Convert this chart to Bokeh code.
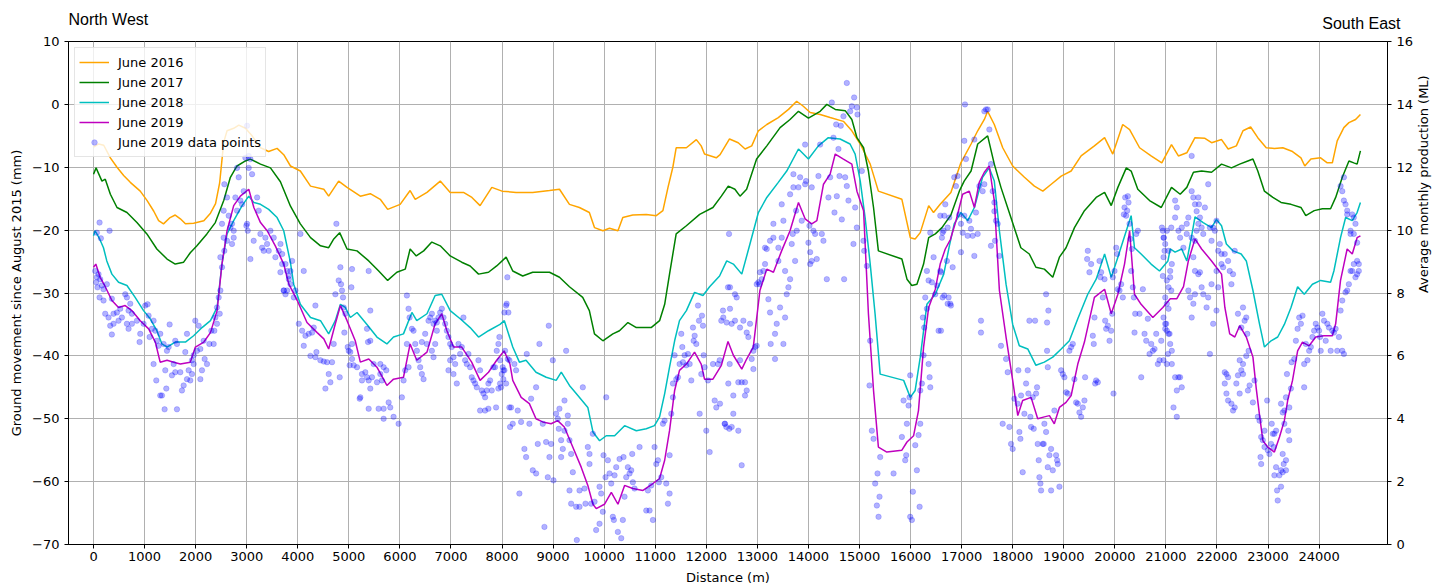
import math
from bokeh.plotting import figure
from bokeh.models import (Range1d, LinearAxis, FixedTicker, Legend, LegendItem,
                          Title, ColumnDataSource)
from bokeh.embed import file_html
from bokeh.resources import INLINE

# ---------------------------------------------------------------------------
# Survey profiles: distance along the line (m) -> ground movement (mm)
# ---------------------------------------------------------------------------
june_2016 = [(0,-6.8),(100,-6.3),(200,-6.5),(330,-8.5),(460,-10.0),(590,-11.3),(720,-12.4),(915,-13.8),(1050,-15.3),(1180,-17.0),(1275,-18.5),(1370,-19.0),(1500,-18.0),(1600,-17.6),(1700,-18.2),(1800,-19.0),(1960,-18.9),(2160,-18.5),(2290,-17.3),(2390,-15.8),(2470,-12.5),(2550,-6.0),(2615,-4.2),(2745,-3.8),(2845,-3.3),(2975,-3.8),(3105,-5.0),(3270,-6.9),(3430,-7.5),(3595,-7.0),(3725,-8.0),(3857,-9.8),(4050,-10.6),(4250,-13.0),(4510,-13.5),(4605,-14.6),(4800,-12.2),(4965,-13.2),(5225,-14.6),(5420,-14.2),(5615,-15.1),(5760,-16.7),(6005,-15.9),(6200,-13.7),(6300,-15.1),(6530,-14.0),(6790,-12.2),(6985,-14.0),(7245,-14.0),(7410,-14.8),(7570,-16.1),(7800,-13.2),(8000,-13.8),(8275,-14.0),(8600,-14.0),(8930,-13.7),(9125,-13.5),(9320,-15.9),(9515,-16.4),(9710,-17.2),(9810,-19.6),(9975,-20.1),(10105,-19.7),(10270,-20.1),(10365,-18.0),(10560,-17.6),(10825,-17.5),(11020,-17.7),(11150,-16.9),(11250,-13.2),(11345,-10.0),(11410,-6.9),(11610,-6.9),(11805,-5.6),(11900,-6.6),(11965,-7.9),(12195,-8.5),(12270,-8.0),(12455,-5.5),(12625,-6.1),(12760,-7.1),(12890,-6.6),(13020,-4.2),(13185,-3.2),(13410,-2.1),(13610,-0.8),(13770,0.5),(13900,-0.3),(14035,-1.3),(14230,-1.6),(14425,-2.1),(14685,-2.7),(14850,-4.2),(15015,-6.3),(15210,-9.5),(15370,-13.8),(15830,-15.1),(15995,-21.2),(16090,-21.4),(16190,-20.4),(16355,-16.1),(16450,-17.2),(16580,-15.9),(16790,-14.0),(16985,-9.3),(17185,-6.3),(17315,-4.2),(17445,-2.4),(17510,-1.1),(17640,-3.2),(17805,-6.9),(18000,-9.8),(18230,-11.6),(18425,-13.0),(18590,-13.8),(18755,-12.7),(18950,-11.4),(19145,-10.6),(19340,-8.2),(19600,-6.6),(19800,-5.3),(19960,-7.9),(20155,-3.2),(20290,-4.0),(20485,-6.9),(20710,-8.2),(20920,-9.3),(21110,-6.4),(21245,-8.2),(21410,-7.7),(21570,-5.3),(21765,-5.4),(21895,-6.1),(22090,-5.6),(22220,-7.1),(22380,-6.6),(22510,-4.2),(22660,-3.6),(22800,-5.3),(22965,-6.9),(23125,-7.0),(23290,-6.9),(23480,-7.5),(23645,-8.5),(23720,-9.8),(23840,-8.7),(24030,-8.5),(24160,-9.3),(24260,-9.3),(24355,-5.8),(24485,-3.7),(24585,-2.9),(24715,-2.4),(24810,-1.6)]

june_2017 = [(0,-11.1),(50,-10.1),(165,-12.2),(230,-11.9),(330,-14.3),(460,-16.4),(655,-17.2),(850,-18.8),(1045,-20.6),(1240,-23.0),(1440,-24.6),(1600,-25.4),(1765,-25.1),(1895,-23.6),(2025,-22.5),(2220,-20.6),(2385,-18.8),(2550,-15.3),(2680,-11.6),(2810,-9.8),(2975,-9.0),(3070,-8.7),(3270,-9.5),(3465,-10.1),(3660,-12.3),(3857,-16.2),(4050,-19.0),(4250,-21.2),(4445,-22.5),(4605,-22.8),(4705,-21.4),(4820,-20.4),(4965,-23.0),(5160,-23.3),(5390,-24.9),(5585,-26.5),(5760,-28.0),(5940,-26.7),(6105,-26.2),(6200,-23.0),(6320,-24.1),(6465,-23.3),(6625,-21.9),(6790,-22.5),(6985,-24.1),(7210,-25.1),(7375,-25.7),(7540,-27.0),(7735,-26.7),(7895,-25.7),(8080,-24.3),(8210,-26.5),(8405,-27.3),(8600,-26.7),(8930,-26.7),(9125,-27.5),(9320,-29.0),(9580,-30.7),(9710,-32.8),(9810,-36.5),(9975,-37.6),(10170,-36.5),(10300,-36.0),(10465,-34.7),(10630,-35.5),(10920,-35.5),(11085,-34.4),(11185,-31.8),(11280,-27.0),(11410,-20.6),(11610,-19.3),(11870,-17.5),(12130,-16.4),(12295,-14.6),(12430,-13.0),(12560,-13.5),(12660,-14.6),(12790,-13.5),(12985,-8.7),(13185,-6.6),(13445,-3.7),(13640,-2.4),(13805,-1.1),(14000,-2.2),(14230,-1.1),(14360,0.0),(14525,-0.8),(14720,-1.0),(14850,-2.4),(14950,-5.3),(15080,-6.9),(15175,-10.6),(15275,-16.4),(15370,-23.3),(15830,-24.6),(15930,-27.8),(16025,-28.8),(16125,-28.6),(16255,-25.4),(16355,-21.2),(16485,-20.6),(16615,-19.6),(16790,-17.6),(16955,-13.8),(17050,-12.2),(17185,-10.6),(17315,-6.3),(17510,-5.0),(17640,-9.5),(17770,-13.2),(17965,-18.0),(18160,-22.8),(18325,-23.8),(18455,-25.9),(18620,-26.2),(18785,-27.5),(18915,-24.3),(19045,-22.8),(19210,-19.6),(19405,-16.9),(19635,-14.8),(19800,-14.0),(19930,-16.1),(20060,-13.2),(20225,-10.1),(20320,-10.6),(20450,-13.5),(20680,-15.3),(20910,-16.4),(21110,-13.2),(21280,-14.3),(21410,-13.2),(21540,-10.8),(21700,-10.6),(21895,-10.8),(22090,-9.5),(22285,-10.1),(22445,-9.5),(22605,-9.0),(22705,-8.7),(22800,-10.6),(22930,-13.8),(23095,-14.8),(23255,-15.6),(23450,-15.9),(23645,-16.4),(23740,-17.7),(23905,-16.9),(24065,-16.6),(24225,-16.6),(24325,-14.8),(24455,-11.6),(24585,-9.0),(24680,-9.3),(24745,-9.5),(24810,-7.4)]

june_2018 = [(0,-20.9),(30,-20.1),(120,-21.4),(195,-22.8),(260,-24.9),(360,-27.0),(490,-28.3),(655,-28.8),(815,-30.7),(980,-32.8),(1110,-34.1),(1240,-36.0),(1340,-38.1),(1440,-38.6),(1600,-37.8),(1800,-37.8),(1960,-36.8),(2125,-35.5),(2290,-34.4),(2420,-32.3),(2515,-25.4),(2615,-20.6),(2745,-18.5),(2910,-16.1),(3040,-14.6),(3140,-15.6),(3270,-15.9),(3430,-16.7),(3595,-18.0),(3725,-20.1),(3855,-25.1),(3920,-28.6),(4050,-31.8),(4250,-33.9),(4445,-34.4),(4605,-36.5),(4735,-34.4),(4835,-31.8),(4930,-32.3),(5030,-33.9),(5160,-33.1),(5355,-35.0),(5550,-37.0),(5745,-38.1),(5875,-37.0),(6070,-36.5),(6235,-33.1),(6330,-34.4),(6530,-33.3),(6690,-30.4),(6820,-30.2),(6985,-32.8),(7180,-34.1),(7375,-35.5),(7540,-37.0),(7735,-36.0),(7960,-35.0),(8045,-34.4),(8210,-38.6),(8340,-41.0),(8470,-40.7),(8665,-42.6),(8865,-43.4),(9060,-43.9),(9160,-42.6),(9320,-44.7),(9485,-46.3),(9680,-48.2),(9780,-52.1),(9910,-53.5),(10040,-52.7),(10205,-52.7),(10400,-51.1),(10630,-51.9),(10825,-51.6),(10985,-51.1),(11085,-49.7),(11185,-46.0),(11280,-41.8),(11380,-37.6),(11475,-34.4),(11610,-32.8),(11770,-29.9),(11935,-30.4),(12065,-29.0),(12260,-27.3),(12400,-24.9),(12530,-25.4),(12695,-27.0),(12855,-22.2),(13020,-17.2),(13185,-14.8),(13410,-12.4),(13575,-10.6),(13805,-7.1),(14000,-8.7),(14195,-6.6),(14390,-5.3),(14620,-5.5),(14815,-6.3),(14915,-7.9),(15015,-12.2),(15110,-18.0),(15210,-25.4),(15305,-33.3),(15405,-42.9),(15865,-43.9),(15995,-46.6),(16090,-45.5),(16190,-40.2),(16320,-31.8),(16485,-30.2),(16650,-27.0),(16760,-22.5),(16855,-19.0),(16985,-17.2),(17120,-18.5),(17250,-16.4),(17410,-11.6),(17540,-10.1),(17640,-12.2),(17740,-20.1),(17870,-28.6),(18000,-35.0),(18130,-38.4),(18295,-38.9),(18455,-41.5),(18620,-41.0),(18785,-40.2),(18950,-38.9),(19110,-37.6),(19275,-34.1),(19470,-30.2),(19635,-27.8),(19800,-23.8),(19930,-27.5),(20060,-24.3),(20225,-20.1),(20320,-17.7),(20385,-22.8),(20515,-23.8),(20710,-25.4),(20875,-26.5),(21040,-24.9),(21085,-23.0),(21180,-23.5),(21310,-23.0),(21410,-24.9),(21505,-20.9),(21570,-17.9),(21730,-18.8),(21895,-19.6),(21990,-18.3),(22090,-19.3),(22185,-22.2),(22315,-23.3),(22475,-23.8),(22575,-24.9),(22705,-29.6),(22835,-35.0),(22930,-38.6),(23060,-37.6),(23190,-37.0),(23320,-35.0),(23450,-32.3),(23580,-29.0),(23710,-30.2),(23870,-28.6),(24030,-28.0),(24225,-28.3),(24290,-26.5),(24420,-21.2),(24520,-18.0),(24650,-18.5),(24745,-17.2),(24810,-15.6)]

june_2019 = [(0,-25.9),(45,-25.4),(130,-27.5),(230,-29.0),(360,-31.2),(490,-32.3),(620,-32.0),(750,-32.8),(915,-34.4),(1080,-35.7),(1210,-37.8),(1305,-41.0),(1440,-40.7),(1570,-41.0),(1700,-41.3),(1895,-41.0),(1995,-38.6),(2160,-37.8),(2290,-36.3),(2420,-32.8),(2515,-25.4),(2615,-20.1),(2745,-16.1),(2875,-14.6),(3040,-13.5),(3140,-16.4),(3270,-18.8),(3400,-20.1),(3560,-22.5),(3725,-25.4),(3825,-28.6),(3990,-31.2),(4180,-34.7),(4380,-36.3),(4510,-37.3),(4605,-38.9),(4735,-34.9),(4835,-32.0),(4965,-34.4),(5125,-37.6),(5225,-41.0),(5390,-40.5),(5550,-41.8),(5745,-44.7),(5875,-43.7),(6070,-43.4),(6200,-38.1),(6330,-40.7),(6530,-39.4),(6690,-34.9),(6820,-33.3),(6920,-36.0),(7050,-38.6),(7210,-38.6),(7405,-41.0),(7570,-43.9),(7735,-42.6),(7895,-40.7),(8040,-39.2),(8155,-41.3),(8210,-43.9),(8375,-46.6),(8535,-47.6),(8665,-50.0),(8795,-50.5),(8960,-50.8),(9090,-50.3),(9220,-51.3),(9385,-54.5),(9550,-57.7),(9680,-60.6),(9780,-63.6),(9845,-64.3),(10005,-63.6),(10140,-61.7),(10270,-63.6),(10400,-60.6),(10560,-61.1),(10760,-61.4),(10955,-60.3),(11085,-59.5),(11185,-56.6),(11280,-51.9),(11380,-45.5),(11475,-42.3),(11610,-41.3),(11770,-39.4),(11900,-41.3),(11965,-43.7),(12130,-43.7),(12295,-41.5),(12425,-37.7),(12530,-39.9),(12695,-42.1),(12790,-40.5),(12920,-38.6),(13050,-29.6),(13185,-26.2),(13315,-26.7),(13475,-23.3),(13640,-20.1),(13805,-15.6),(13935,-18.2),(14065,-19.0),(14165,-18.5),(14295,-12.7),(14425,-11.1),(14525,-7.9),(14685,-8.7),(14850,-9.5),(14950,-13.8),(15080,-16.9),(15175,-33.3),(15275,-45.5),(15370,-54.5),(15535,-55.3),(15830,-55.0),(15930,-53.7),(16060,-52.7),(16155,-48.7),(16255,-38.6),(16355,-32.3),(16485,-29.4),(16580,-25.4),(16680,-23.0),(16780,-21.5),(16890,-18.5),(17020,-14.3),(17150,-13.8),(17250,-16.4),(17345,-12.4),(17445,-10.8),(17540,-9.8),(17640,-15.3),(17740,-29.6),(17870,-37.0),(18000,-43.9),(18100,-49.5),(18195,-47.1),(18360,-46.6),(18490,-50.0),(18620,-49.7),(18720,-49.5),(18815,-50.8),(18915,-48.2),(19045,-47.4),(19145,-46.3),(19275,-41.3),(19405,-37.8),(19600,-30.7),(19800,-29.4),(19930,-33.3),(20060,-30.2),(20190,-25.4),(20290,-20.1),(20385,-30.2),(20515,-31.8),(20745,-33.9),(20940,-32.3),(21085,-30.9),(21215,-30.9),(21345,-29.0),(21440,-24.9),(21570,-21.4),(21700,-23.0),(21895,-24.9),(22090,-27.0),(22155,-32.3),(22250,-36.5),(22350,-37.0),(22445,-35.2),(22575,-37.0),(22705,-40.2),(22770,-45.2),(22835,-49.5),(22900,-53.5),(22995,-54.5),(23125,-55.3),(23225,-52.9),(23320,-50.3),(23385,-47.1),(23480,-43.9),(23580,-39.2),(23675,-37.8),(23805,-38.4),(23935,-37.0),(24095,-36.8),(24260,-36.8),(24325,-34.9),(24420,-28.0),(24550,-23.0),(24650,-23.8),(24745,-21.2),(24810,-20.9)]

# Individual June 2019 survey readings, grouped by stretch of the line
points_0_4km = [(118,-18.8),(65,-20.4),(144,-21.3),(314,-20.1),(33,-26.5),(65,-27.5),(98,-27.0),(131,-27.8),(52,-28.3),(78,-29.1),(163,-28.8),(196,-29.4),(261,-28.6),(118,-30.7),(196,-31.2),(359,-30.9),(229,-33.3),(294,-33.9),(392,-33.3),(458,-33.1),(327,-35.2),(359,-36.6),(392,-34.9),(490,-34.4),(556,-33.9),(523,-32.5),(621,-30.2),(654,-30.7),(686,-32.8),(719,-31.7),(752,-33.3),(654,-34.9),(686,-35.7),(752,-34.9),(850,-34.4),(915,-36.5),(902,-37.8),(980,-34.9),(1013,-32.0),(1059,-31.8),(1078,-33.6),(1144,-35.7),(1176,-34.4),(1098,-37.0),(1209,-36.0),(1242,-37.6),(1307,-36.5),(1275,-38.4),(1373,-38.1),(1438,-39.2),(1471,-38.6),(1176,-41.3),(1229,-43.9),(1307,-46.3),(1340,-46.3),(1425,-45.2),(1392,-48.5),(1634,-48.5),(1405,-42.3),(1569,-41.3),(1601,-42.6),(1536,-43.1),(1699,-42.6),(1765,-44.7),(1830,-43.7),(1895,-43.9),(1732,-45.5),(1863,-42.3),(1928,-40.7),(1961,-39.9),(2026,-39.2),(2092,-38.9),(2157,-37.6),(2124,-42.3),(2176,-40.5),(2092,-43.7),(2222,-41.3),(2268,-38.1),(1961,-41.3),(1928,-42.9),(1797,-39.4),(1601,-37.6),(1634,-38.1),(1830,-36.5),(1993,-34.4),(2059,-35.2),(1490,-35.0),(2516,-19.0),(2549,-16.9),(2562,-12.7),(2614,-14.8),(2647,-17.7),(2680,-19.6),(2712,-19.0),(2745,-20.1),(2778,-14.8),(2810,-10.1),(2843,-11.6),(2876,-15.3),(2908,-15.9),(2941,-13.8),(2974,-8.5),(3007,-19.0),(3020,-20.1),(3039,-10.1),(3072,-8.7),(3105,-11.1),(3137,-21.7),(3072,-24.6),(3203,-14.8),(3235,-16.9),(3268,-20.6),(3301,-22.8),(3333,-23.3),(3366,-21.2),(3399,-22.2),(3431,-23.3),(3464,-20.1),(3529,-21.2),(3562,-24.3),(3627,-23.3),(3693,-25.4),(3660,-26.7),(3725,-29.6),(3791,-29.6),(3824,-27.8),(3856,-26.5),(3007,-3.4),(3039,-8.2),(2993,-19.3),(2745,-21.2),(2712,-22.2),(2810,-16.9),(2614,-21.7),(2549,-21.2),(2484,-29.6),(2471,-33.3),(2451,-30.7),(2418,-32.3),(2386,-33.9),(2366,-36.0),(2307,-36.0),(2353,-38.1),(2418,-34.9),(2516,-25.9),(2484,-24.3),(2562,-23.3)]

points_4_8km = [(3661,-22.2),(3694,-23.8),(3759,-25.4),(3792,-26.5),(3824,-27.3),(3857,-28.6),(3726,-29.6),(3759,-30.2),(3889,-24.9),(3922,-30.7),(3954,-29.6),(4052,-20.6),(4117,-26.5),(4020,-34.9),(4085,-36.0),(4150,-36.8),(4215,-36.5),(4117,-38.4),(4280,-36.3),(4313,-35.5),(4345,-32.0),(4365,-39.4),(4248,-40.0),(4345,-40.2),(4443,-40.7),(4508,-40.9),(4573,-41.0),(4671,-41.0),(4606,-42.9),(4638,-44.2),(4541,-45.2),(4821,-43.4),(4704,-38.1),(4756,-19.0),(4736,-30.2),(4801,-28.0),(4834,-25.9),(4847,-28.6),(4866,-29.6),(4886,-30.7),(4899,-32.3),(4932,-33.3),(5062,-26.2),(5049,-29.1),(4912,-36.3),(4977,-38.6),(4997,-39.2),(5029,-39.4),(5062,-38.1),(5016,-41.5),(5095,-41.5),(5160,-41.8),(5062,-40.5),(5257,-42.9),(5323,-42.6),(5355,-43.4),(5257,-43.9),(5388,-43.9),(5420,-45.2),(5225,-46.6),(5212,-46.8),(5388,-48.4),(5583,-48.4),(5681,-48.4),(5681,-50.0),(5811,-48.2),(5779,-47.4),(5876,-49.7),(5974,-50.8),(5616,-41.3),(5681,-41.8),(5733,-42.3),(5485,-41.3),(5453,-43.4),(5551,-44.2),(5616,-42.9),(5648,-43.9),(5388,-26.5),(5420,-32.8),(5355,-35.7),(5375,-37.8),(5420,-37.6),(6039,-46.6),(6072,-43.9),(6104,-42.3),(6169,-41.8),(6137,-38.1),(6137,-30.4),(6169,-32.5),(6189,-33.9),(6235,-35.7),(6267,-36.0),(6300,-38.1),(6332,-39.2),(6365,-40.7),(6397,-41.8),(6430,-42.9),(6463,-43.7),(6430,-37.8),(6495,-36.5),(6528,-38.1),(6560,-34.4),(6593,-33.9),(6626,-33.3),(6658,-34.9),(6691,-34.4),(6723,-34.7),(6756,-33.9),(6788,-33.1),(6821,-32.5),(6854,-33.9),(6886,-34.9),(6691,-38.1),(6723,-36.0),(6626,-39.2),(6658,-40.2),(6919,-36.0),(6951,-37.0),(6984,-38.1),(7016,-38.6),(7049,-40.2),(6984,-40.7),(7082,-41.3),(7114,-44.4),(7179,-39.7),(7212,-38.6),(7244,-33.9),(7147,-38.1),(6951,-42.3),(7049,-42.9),(7277,-40.7),(7310,-41.3),(7342,-39.7),(7375,-41.8),(7407,-43.4),(7440,-43.9),(7473,-44.4),(7505,-45.0),(7538,-40.7),(7570,-42.3),(7603,-45.5),(7635,-46.0),(7668,-46.6),(7700,-45.5),(7733,-44.4),(7766,-43.9),(7798,-45.5),(7831,-41.8),(7863,-41.8),(7570,-48.7),(7668,-48.7),(7733,-48.4),(7883,-48.2),(7896,-39.2),(7929,-38.1),(7961,-40.7),(7994,-42.9),(8026,-42.3),(8059,-39.2),(8091,-31.7),(8104,-27.5),(8124,-33.1),(8144,-48.2),(8157,-51.3),(7961,-44.4),(8026,-43.7),(7929,-45.2)]

points_8_12km = [(7948,-37.0),(8013,-41.8),(8046,-42.3),(8079,-44.4),(7981,-45.0),(8079,-32.0),(8046,-33.1),(8111,-40.5),(8144,-40.7),(8177,-48.2),(8209,-50.8),(8242,-41.3),(8275,-42.3),(8307,-48.7),(8340,-61.9),(8373,-50.5),(8438,-54.8),(8471,-56.1),(8484,-39.7),(8536,-50.8),(8569,-46.8),(8602,-58.2),(8667,-45.0),(8667,-58.7),(8700,-54.0),(8732,-38.1),(8798,-50.8),(8830,-67.2),(8863,-53.7),(8896,-59.3),(8915,-35.2),(8928,-56.1),(8961,-54.0),(8994,-40.7),(9007,-59.8),(9059,-49.2),(9092,-50.0),(9111,-51.6),(9124,-48.4),(9157,-53.4),(9190,-54.8),(9223,-47.1),(9255,-39.2),(9288,-49.5),(9321,-53.4),(9353,-55.6),(9288,-50.8),(9157,-56.1),(9223,-51.9),(9321,-61.4),(9353,-63.5),(9386,-58.5),(9451,-64.0),(9464,-69.3),(9517,-61.4),(9517,-64.0),(9582,-45.0),(9615,-61.1),(9634,-63.5),(9680,-54.5),(9713,-55.6),(9713,-57.2),(9745,-63.5),(9778,-52.4),(9811,-63.2),(9843,-67.7),(9909,-66.7),(9941,-61.9),(9909,-60.8),(9974,-64.8),(9987,-55.8),(10040,-46.6),(10026,-59.3),(10072,-56.6),(10105,-58.7),(10138,-60.3),(10170,-65.6),(10190,-66.1),(10203,-59.0),(10236,-57.7),(10268,-68.0),(10301,-56.4),(10334,-69.0),(10366,-66.1),(10379,-56.1),(10399,-62.4),(10432,-59.3),(10464,-57.7),(10497,-58.7),(10530,-58.2),(10549,-55.6),(10562,-60.1),(10595,-61.1),(10693,-54.5),(10824,-64.6),(10857,-61.4),(10889,-64.6),(10922,-60.6),(10955,-66.1),(10987,-54.5),(11020,-57.2),(11053,-56.6),(11072,-60.1),(11118,-59.3),(11151,-50.8),(11183,-50.3),(11216,-60.3),(11249,-63.5),(11281,-55.8),(11281,-61.9),(11314,-49.2),(11347,-44.4),(11347,-46.6),(11379,-39.9),(11412,-43.7),(11445,-43.4),(11477,-41.3),(11510,-36.5),(11530,-38.6),(11543,-41.0),(11575,-39.9),(11608,-41.5),(11641,-39.7),(11674,-41.3),(11706,-43.9),(11739,-35.5),(11752,-37.6),(11772,-36.8),(11804,-38.1),(11837,-32.0),(11857,-34.4),(11870,-49.2),(11902,-42.9),(11915,-33.6),(11935,-35.2),(11948,-39.9),(11968,-41.8),(12000,-51.9),(12033,-43.9),(12066,-55.3),(12131,-41.3),(12164,-47.1),(12196,-48.2),(12229,-41.3),(12262,-40.7),(12294,-34.4),(12327,-32.8),(12360,-50.8),(12392,-51.3),(12425,-29.1),(12445,-20.6),(12458,-41.3)]

points_12_17km = [(12268,-47.6),(12333,-33.9),(12366,-50.8),(12399,-34.7),(12431,-44.4),(12464,-32.5),(12497,-34.9),(12497,-51.3),(12529,-46.3),(12464,-29.1),(12451,-51.6),(12529,-49.2),(12562,-30.2),(12562,-34.4),(12595,-30.7),(12627,-44.2),(12627,-51.9),(12660,-35.5),(12660,-40.7),(12693,-44.2),(12693,-57.4),(12726,-34.4),(12758,-44.2),(12758,-46.3),(12791,-36.3),(12791,-45.5),(12824,-37.0),(12856,-34.9),(12889,-40.5),(12922,-42.1),(12922,-39.2),(12954,-38.6),(12987,-38.4),(12987,-28.6),(13020,-28.3),(13039,-28.6),(13052,-26.7),(13085,-27.8),(13118,-26.5),(13150,-22.8),(13150,-25.4),(13183,-23.0),(13216,-31.0),(13248,-21.7),(13248,-33.1),(13261,-38.1),(13314,-21.2),(13314,-19.0),(13346,-40.5),(13346,-36.5),(13379,-34.9),(13412,-22.8),(13412,-24.9),(13444,-32.3),(13477,-21.2),(13477,-15.9),(13510,-18.5),(13510,-38.1),(13543,-33.9),(13543,-26.5),(13575,-30.2),(13608,-29.1),(13641,-27.8),(13641,-14.3),(13673,-22.2),(13693,-20.6),(13706,-11.1),(13706,-13.2),(13739,-24.9),(13758,-16.9),(13771,-20.1),(13804,-13.2),(13837,-11.6),(13869,-18.5),(13935,-6.4),(13935,-12.7),(13954,-12.2),(14000,-22.0),(14020,-19.3),(14033,-25.4),(14033,-23.5),(14065,-24.9),(14065,-13.2),(14098,-20.1),(14131,-20.6),(14163,-24.6),(14196,-11.4),(14229,-6.4),(14262,-20.6),(14294,-21.7),(14360,-27.8),(14392,-14.8),(14425,-11.6),(14458,0.3),(14490,-5.3),(14510,-17.2),(14543,-3.2),(14556,-14.6),(14588,-7.1),(14608,-11.4),(14634,-3.4),(14654,-18.3),(14686,-1.9),(14699,-27.8),(14719,-11.6),(14752,3.4),(14752,-13.0),(14784,-15.3),(14817,-1.1),(14850,-0.3),(14882,-22.2),(14895,1.1),(14915,-16.4),(14948,-0.5),(14948,-19.6),(14961,-1.6),(15046,-10.6),(15078,-21.7),(15092,-23.3),(15144,-25.7),(15196,-44.7),(15209,-37.6),(15242,-51.9),(15275,-53.2),(15307,-60.3),(15340,-63.8),(15353,-58.7),(15373,-65.6),(15392,-62.4),(15405,-56.1),(15667,-58.7),(15830,-52.9),(15863,-47.1),(15895,-56.6),(15915,-55.8),(15928,-50.8),(15961,-47.9),(15980,-46.6),(15993,-43.1),(15993,-65.6),(16026,-66.1),(16046,-61.6),(16092,-54.2),(16124,-58.2),(16157,-52.6),(16177,-64.0),(16190,-50.8),(16190,-45.5),(16222,-44.4),(16242,-33.9),(16255,-39.9),(16268,-35.5),(16288,-30.7),(16320,-32.5),(16353,-41.3),(16373,-43.4),(16386,-45.0),(16320,-26.5),(16353,-28.0),(16386,-20.4),(16418,-28.3),(16451,-24.3),(16484,-30.2),(16516,-28.8),(16549,-36.0),(16582,-26.5),(16614,-21.2),(16647,-20.1),(16680,-15.9),(16712,-24.9),(16745,-30.7),(16778,-31.7),(16582,-17.7)]

points_17_21km = [(16595,-26.7),(16628,-30.7),(16660,-30.4),(16726,-31.7),(16791,-32.0),(16595,-36.0),(16628,-20.4),(16660,-17.7),(16726,-19.6),(16758,-18.0),(16824,-25.9),(16856,-11.6),(16889,-13.0),(16922,-11.4),(16954,-17.5),(16987,-23.5),(17020,-20.4),(17053,-17.7),(16987,-19.0),(17085,-8.7),(17066,0.0),(17053,-5.8),(17118,-20.9),(17151,-18.5),(17183,-19.8),(17216,-20.9),(17249,-5.6),(17249,-24.1),(17281,-17.2),(17314,-20.6),(17347,-13.0),(17379,-34.4),(17379,-36.3),(17412,-13.8),(17445,-12.7),(17445,-1.1),(17477,-0.8),(17510,-0.8),(17543,-4.0),(17575,-9.5),(17575,-22.5),(17608,-13.8),(17641,-15.6),(17641,-17.0),(17654,-21.7),(17673,-18.5),(17706,-19.0),(17739,-24.1),(17771,-38.4),(17804,-50.8),(17870,-40.5),(17902,-42.6),(17935,-51.3),(17968,-54.0),(18000,-54.8),(18033,-46.8),(18098,-47.6),(18111,-42.3),(18131,-52.1),(18151,-53.2),(18164,-46.3),(18196,-58.5),(18229,-49.2),(18262,-44.4),(18294,-42.3),(18307,-46.0),(18327,-34.4),(18347,-49.7),(18360,-51.3),(18392,-46.6),(18412,-51.6),(18438,-34.4),(18458,-46.0),(18477,-45.0),(18490,-54.0),(18510,-56.6),(18523,-59.3),(18543,-60.3),(18556,-61.4),(18588,-54.0),(18608,-54.0),(18621,-50.8),(18654,-52.1),(18687,-57.7),(18719,-55.8),(18752,-61.4),(18752,-54.8),(18785,-58.2),(18817,-48.7),(18850,-55.8),(18870,-56.6),(18883,-57.2),(18915,-60.8),(18673,-39.2),(18687,-41.8),(18673,-34.7),(18654,-30.2),(18699,-32.8),(18948,-42.3),(18981,-42.9),(19013,-43.4),(19046,-45.8),(19079,-46.0),(19111,-39.2),(19144,-38.6),(19177,-38.1),(19209,-43.7),(19242,-47.4),(19275,-47.6),(19307,-49.0),(19340,-49.7),(19373,-48.2),(19405,-47.1),(19418,-43.4),(19458,-24.6),(19471,-23.3),(19503,-26.7),(19536,-25.4),(19569,-36.8),(19588,-38.1),(19602,-33.9),(19615,-44.4),(19634,-43.9),(19667,-44.2),(19700,-24.9),(19719,-27.5),(19732,-26.7),(19765,-30.7),(19798,-27.8),(19811,-34.4),(19830,-35.7),(19863,-35.2),(19896,-37.6),(19928,-36.0),(19948,-33.3),(19961,-27.5),(19974,-46.0),(19994,-26.5),(20026,-22.8),(20046,-23.8),(20059,-29.4),(20092,-29.6),(20124,-28.6),(20157,-30.7),(20177,-17.5),(20190,-16.4),(20203,-14.8),(20222,-17.7),(20242,-16.9),(20255,-14.6),(20268,-15.6),(20288,-19.0),(20307,-21.4),(20321,-26.5),(20333,-23.0),(20353,-29.1),(20373,-30.7),(20386,-36.3),(20399,-33.3),(20419,-20.6),(20451,-20.1),(20484,-33.3),(20517,-43.4),(20549,-29.4),(20582,-36.5),(20615,-37.6),(20647,-34.1),(20680,-39.7),(20713,-38.1),(20745,-39.2),(20778,-38.9),(20811,-36.5),(20843,-41.3),(20876,-40.7),(20909,-37.6),(20941,-27.3),(20941,-20.1),(20961,-21.2),(20974,-23.3),(20987,-35.7),(21007,-34.9),(21040,-39.7),(21072,-36.5),(21105,-29.6),(21105,-19.6)]

points_21_25km = [(20922,-19.6),(20954,-21.2),(20987,-22.2),(21019,-20.1),(21052,-23.3),(21084,-26.5),(20954,-24.3),(21019,-28.0),(21052,-29.1),(21084,-27.5),(21116,-25.4),(20987,-30.7),(21019,-31.7),(21052,-32.5),(20954,-33.9),(20987,-34.9),(21019,-36.0),(21052,-36.5),(21084,-38.1),(21116,-39.2),(20954,-40.7),(21019,-41.3),(21116,-41.3),(21181,-43.4),(21214,-49.7),(21214,-45.5),(21246,-43.4),(21278,-43.4),(21311,-45.0),(21149,-48.2),(21181,-18.0),(21181,-15.3),(21214,-16.4),(21246,-20.1),(21278,-21.2),(21311,-19.6),(21343,-22.8),(21408,-19.0),(21408,-20.6),(21440,-18.0),(21505,-8.2),(21505,-13.8),(21538,-14.8),(21570,-15.9),(21602,-17.0),(21635,-14.8),(21648,-15.9),(21505,-21.2),(21570,-21.7),(21602,-20.1),(21635,-19.0),(21667,-18.0),(21700,-19.6),(21732,-20.6),(21764,-16.4),(21829,-12.7),(21862,-19.6),(21894,-21.7),(21926,-19.6),(21959,-20.1),(21991,-18.5),(22024,-23.3),(22056,-22.2),(22088,-23.8),(22121,-25.9),(22153,-23.8),(22088,-25.4),(21991,-26.5),(21894,-28.6),(21829,-30.7),(21797,-32.3),(21732,-30.2),(21700,-29.1),(21667,-26.7),(21570,-30.2),(21538,-31.7),(21505,-33.9),(21473,-30.7),(21440,-29.6),(21635,-27.0),(21570,-26.5),(21538,-24.3),(21862,-39.7),(21926,-34.9),(21991,-32.8),(22024,-29.1),(22218,-24.9),(22250,-26.5),(22283,-28.6),(22315,-27.0),(22348,-23.3),(22412,-33.3),(22477,-35.5),(22510,-32.3),(22542,-34.4),(22574,-33.9),(22594,-36.5),(22620,-39.2),(22574,-40.0),(22445,-40.7),(22477,-42.3),(22412,-43.1),(22510,-42.9),(22380,-44.4),(22218,-43.4),(22186,-42.9),(22153,-42.6),(22153,-44.4),(22186,-46.0),(22218,-47.1),(22283,-47.6),(22315,-48.7),(22348,-48.2),(22445,-46.0),(22510,-41.3),(22607,-45.5),(22639,-44.7),(22704,-47.4),(22736,-43.9),(22801,-49.7),(22834,-50.3),(22866,-52.9),(22898,-53.4),(22931,-54.5),(22853,-56.1),(22866,-57.2),(22931,-51.9),(22983,-47.1),(22996,-55.0),(23028,-55.6),(23060,-54.0),(23073,-50.8),(23093,-52.4),(23112,-54.5),(23125,-52.4),(23158,-51.9),(23125,-59.0),(23158,-57.7),(23177,-61.4),(23190,-63.0),(23222,-59.0),(23255,-58.2),(23255,-60.8),(23287,-58.5),(23287,-55.6),(23307,-57.2),(23320,-50.8),(23352,-56.6),(23352,-58.2),(23255,-47.6),(23287,-49.0),(23320,-48.7),(23352,-46.6),(23417,-53.4),(23397,-51.9),(23417,-48.2),(23371,-42.9),(23449,-45.2),(23462,-41.0),(23514,-40.5),(23546,-37.6),(23579,-35.7),(23644,-34.9),(23611,-33.9),(23676,-33.6),(23708,-45.0),(23708,-41.3),(23741,-38.1),(23773,-40.7),(23806,-39.2),(23838,-38.6),(23870,-37.0),(23903,-36.0),(23935,-34.9),(23968,-35.5),(24000,-36.0),(24019,-37.0),(24032,-39.2),(24065,-33.3),(24097,-34.4),(24130,-37.6),(24162,-34.9),(24194,-35.5),(24227,-39.2),(24259,-36.0),(24292,-36.3),(24324,-35.7),(24356,-39.2),(24389,-37.0),(24454,-39.2),(24486,-39.7),(24421,-32.8),(24454,-31.2),(24518,-29.9),(24551,-29.6),(24583,-28.6),(24616,-26.5),(24648,-26.5),(24680,-25.4),(24713,-27.5),(24745,-27.0),(24778,-26.5),(24745,-24.9),(24616,-20.1),(24648,-17.5),(24680,-18.0),(24713,-19.0),(24551,-16.9),(24518,-15.9),(24486,-15.3),(24454,-13.8),(24421,-13.0),(24486,-11.6),(24551,-17.5),(24616,-20.6),(24680,-20.6),(24745,-22.0),(24778,-25.4)]

distance_ticks = list(range(0, 25000, 1000))
movement_ticks = [-70, -60, -50, -40, -30, -20, -10, 0, 10]
production_ticks = [0, 2, 4, 6, 8, 10, 12, 14, 16]

series = [
    ("June 2016", june_2016, "#ffa500"),
    ("June 2017", june_2017, "#008000"),
    ("June 2018", june_2018, "#00bfbf"),
    ("June 2019", june_2019, "#bf00bf"),
]

FONT = "DejaVu Sans"
FS = "13px"

p = figure(width=1445, height=587,
           x_range=Range1d(-490, 25340), y_range=Range1d(-70, 10),
           output_backend="svg", toolbar_location=None,
           min_border_left=68, min_border_right=58,
           min_border_top=41, min_border_bottom=43)
p.background_fill_color = "white"
p.outline_line_color = "black"
p.outline_line_width = 1
p.outline_line_alpha = 1

# second scale on the right for monthly production
p.extra_y_ranges = {"production": Range1d(0, 16)}
right_axis = LinearAxis(y_range_name="production",
                        axis_label="Average monthly production (ML)")
p.add_layout(right_axis, "right")

# axes styling
p.xaxis.ticker = FixedTicker(ticks=distance_ticks)
p.xaxis.axis_label = "Distance (m)"
p.yaxis[0].ticker = FixedTicker(ticks=movement_ticks)
p.yaxis[0].axis_label = "Ground movement since August 2015 (mm)"
p.yaxis[0].major_label_overrides = {t: ("\u2212" + str(-t) if t < 0 else str(t)) for t in movement_ticks}
right_axis.ticker = FixedTicker(ticks=production_ticks)

for ax in [p.xaxis[0], p.yaxis[0], right_axis]:
    ax.axis_line_color = "black"
    ax.axis_line_width = 1
    ax.major_tick_line_color = "black"
    ax.major_tick_out = 4
    ax.major_tick_in = 0
    ax.minor_tick_line_color = None
    ax.major_label_text_font = FONT
    ax.major_label_text_font_size = FS
    ax.major_label_text_color = "black"
    ax.axis_label_text_font = FONT
    ax.axis_label_text_font_size = FS
    ax.axis_label_text_font_style = "normal"
    ax.axis_label_text_color = "black"

p.xaxis.major_label_standoff = 3
p.xaxis.axis_label_standoff = 6
p.yaxis[0].major_label_standoff = 5
p.yaxis[0].axis_label_standoff = 5
right_axis.major_label_standoff = 5
right_axis.axis_label_standoff = 7
# right-hand label reads bottom-to-top, like the left one
right_axis.axis_label_orientation = math.pi / 2

# grid
p.xgrid.ticker = FixedTicker(ticks=distance_ticks)
p.ygrid.ticker = FixedTicker(ticks=movement_ticks)
for g in [p.xgrid[0], p.ygrid[0]]:
    g.grid_line_color = "#b0b0b0"
    g.grid_line_width = 1

# profile lines
legend_items = []
for name, pts, color in series:
    xs, ys = zip(*pts)
    src = ColumnDataSource(dict(x=list(xs), y=list(ys)))
    r = p.line("x", "y", source=src, line_color=color, line_width=1.5)
    legend_items.append(LegendItem(label=name, renderers=[r]))

# individual readings
all_points = (points_0_4km + points_4_8km + points_8_12km +
              points_12_17km + points_17_21km + points_21_25km)
px_, py_ = zip(*all_points)
pts_src = ColumnDataSource(dict(x=list(px_), y=list(py_)))
r_pts = p.scatter("x", "y", source=pts_src, marker="circle", size=5.5,
                  fill_color="#0000ff", fill_alpha=0.3,
                  line_color="#0000ff", line_alpha=0.3, line_width=0.6)
legend_items.append(LegendItem(label="June 2019 data points", renderers=[r_pts]))

legend = Legend(items=legend_items, location="top_left", margin=6,
                padding=4, spacing=0, glyph_width=30, glyph_height=14,
                label_height=20, label_standoff=9,
                label_text_font=FONT, label_text_font_size=FS,
                label_text_color="black",
                border_line_color="#cccccc", border_line_width=1,
                background_fill_color="white", background_fill_alpha=0.8)
p.add_layout(legend)

# direction markers above the frame: the first one added sits nearest the frame
p.add_layout(Title(text="South East", align="right", offset=-13, standoff=20,
                   text_font="Liberation Sans", text_font_size="16px",
                   text_font_style="normal", text_color="black"), "above")
p.add_layout(Title(text="North West", align="left", offset=0, standoff=-50,
                   text_font="Liberation Sans", text_font_size="16px",
                   text_font_style="normal", text_color="black"), "above")

open("out.html", "w").write(file_html(p, INLINE))
